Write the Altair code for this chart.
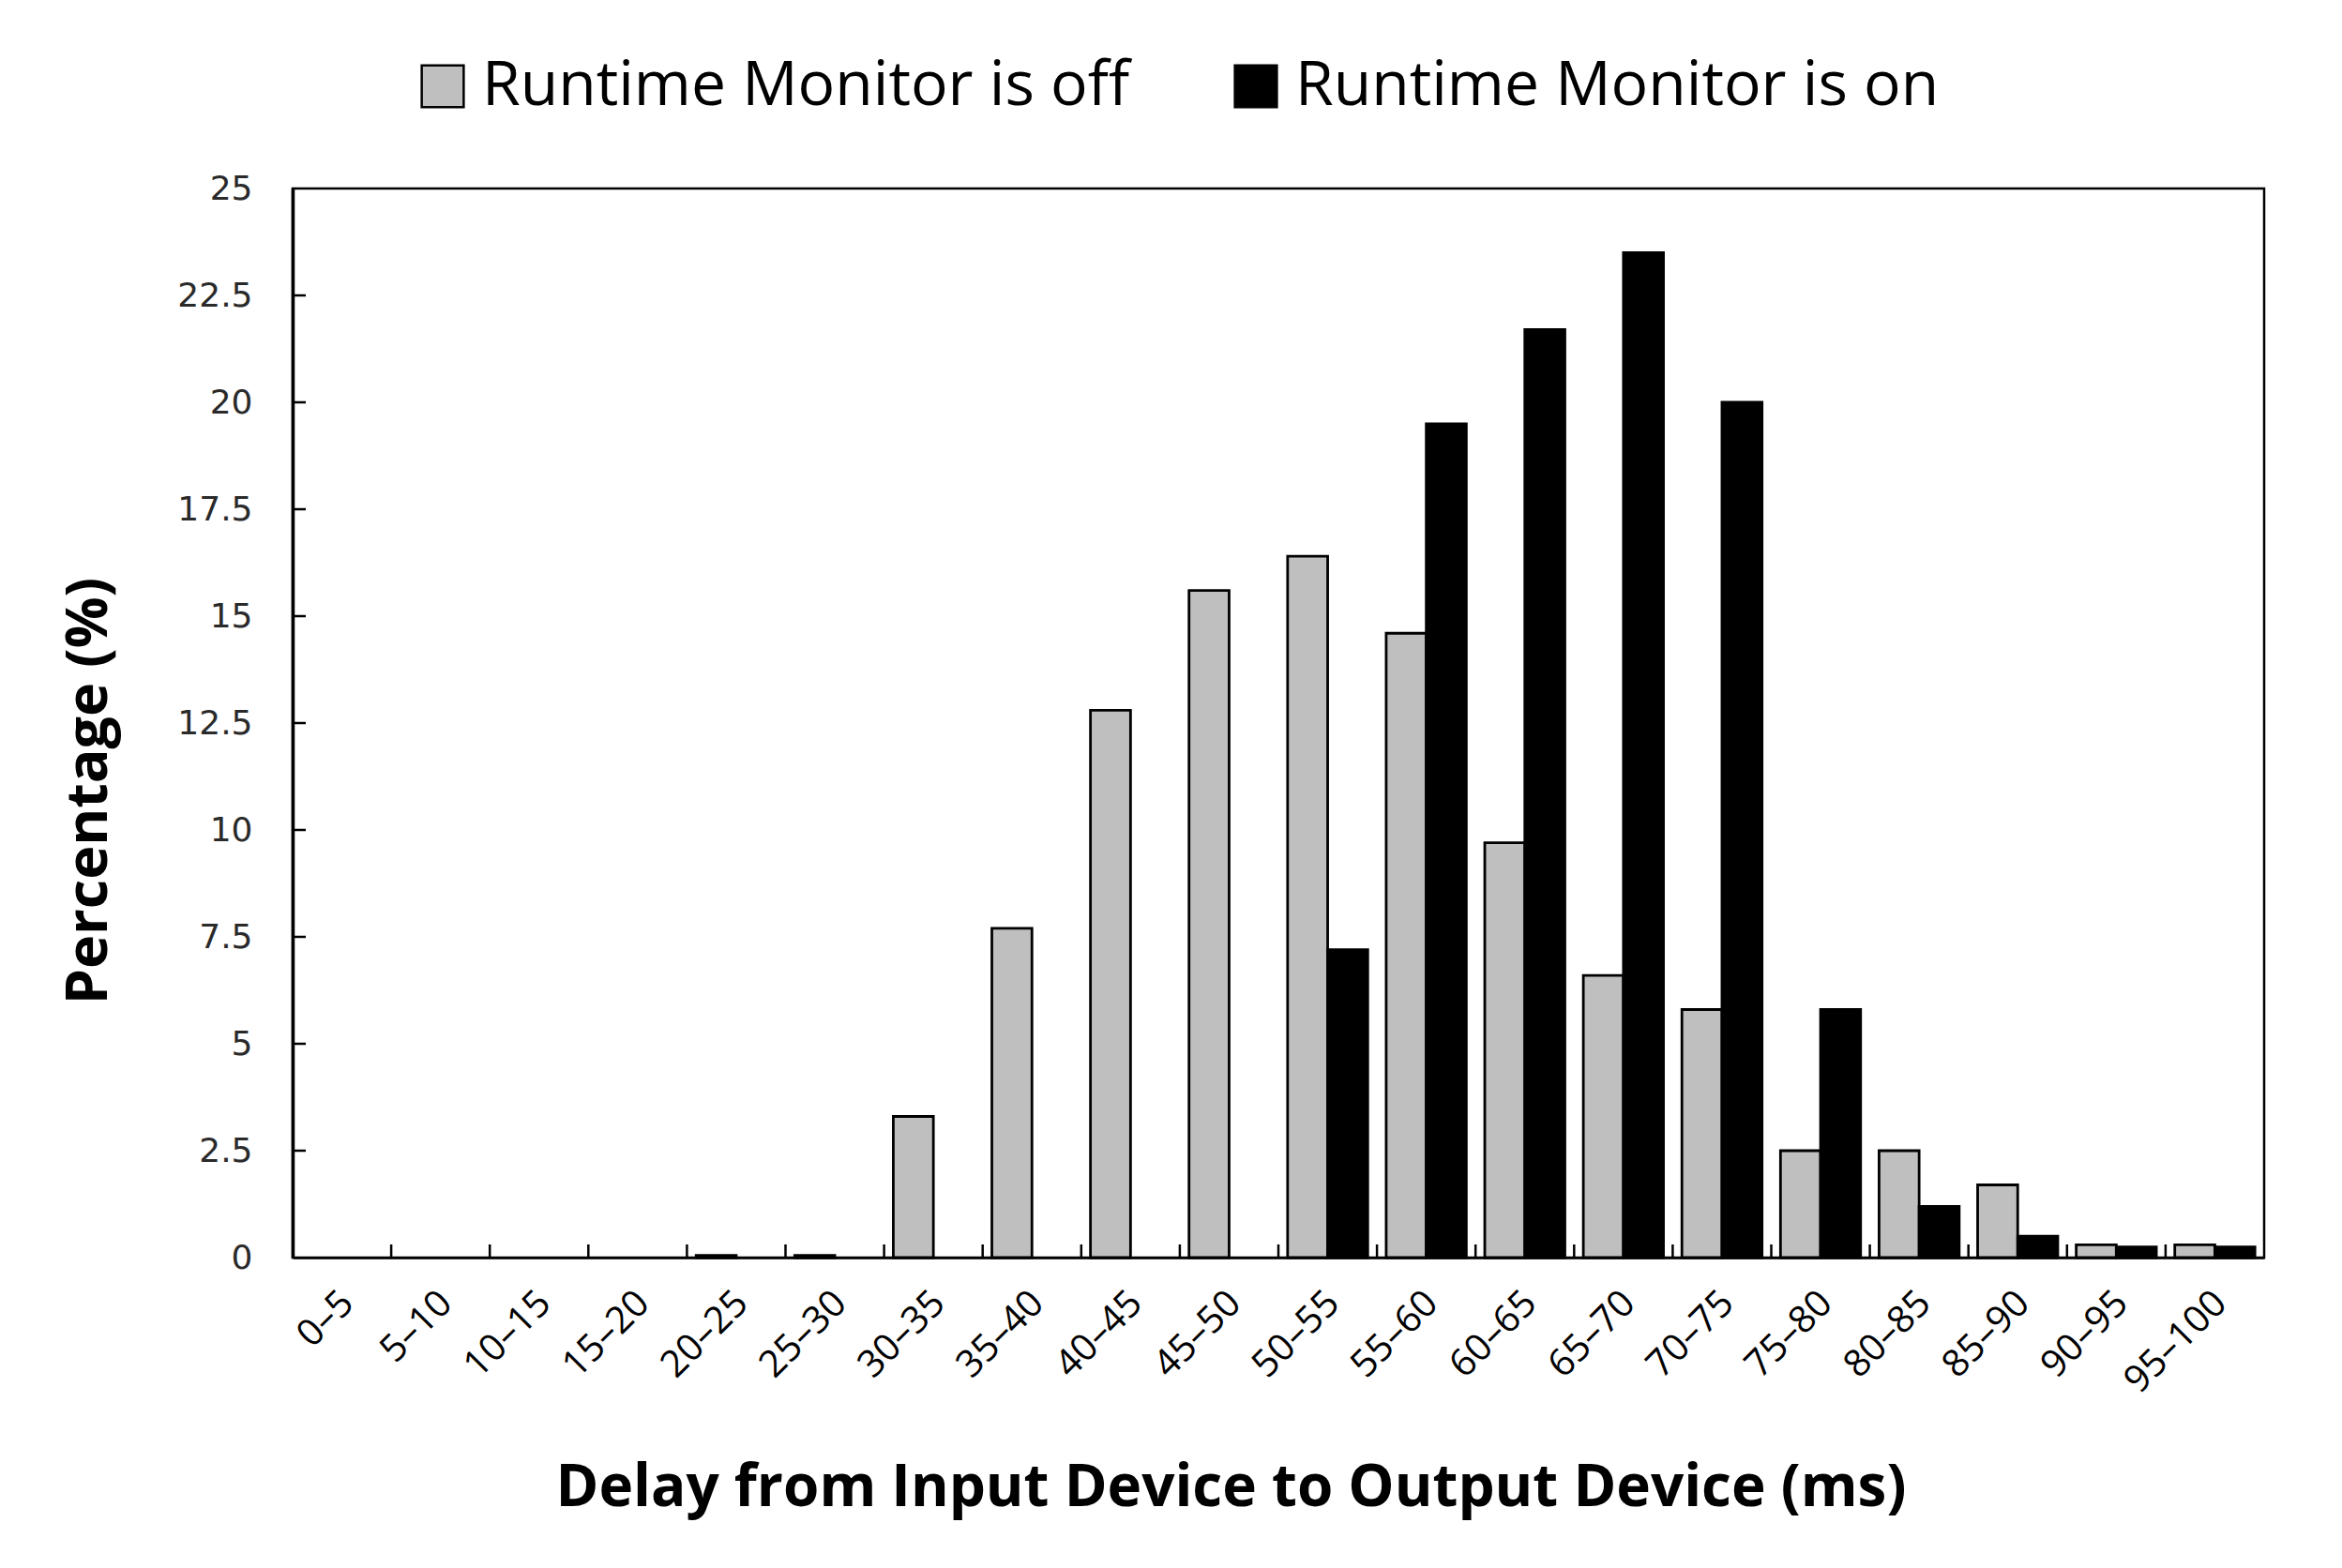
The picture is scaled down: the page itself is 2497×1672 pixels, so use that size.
import altair as alt
import pandas as pd

categories = ["0–5", "5–10", "10–15", "15–20", "20–25", "25–30", "30–35", "35–40",
              "40–45", "45–50", "50–55", "55–60", "60–65", "65–70", "70–75", "75–80",
              "80–85", "85–90", "90–95", "95–100"]
off_values = [0, 0, 0, 0, 0.05, 0.05, 3.3, 7.7, 12.8, 15.6, 16.4, 14.6, 9.7, 6.6, 5.8,
              2.5, 2.5, 1.7, 0.3, 0.3]
on_values = [0, 0, 0, 0, 0, 0, 0, 0, 0, 0, 7.2, 19.5, 21.7, 23.5, 20.0, 5.8, 1.2, 0.5,
             0.25, 0.25]
series_names = ["Runtime Monitor is off", "Runtime Monitor is on"]
series_colors = ["#BFBFBF", "#000000"]
y_ticks = [0, 2.5, 5, 7.5, 10, 12.5, 15, 17.5, 20, 22.5, 25]

W, H = 2102, 1140

rows = []
for c, v in zip(categories, off_values):
    rows.append({"category": c, "series": series_names[0], "value": v})
for c, v in zip(categories, on_values):
    rows.append({"category": c, "series": series_names[1], "value": v})
df = pd.DataFrame(rows)

x_scale = alt.Scale(domain=categories, paddingInner=0, paddingOuter=0)
y_scale = alt.Scale(domain=[0, 25], nice=False)

bars = alt.Chart(df).transform_filter("datum.value > 0").mark_bar(
    stroke="black", strokeWidth=2.8
).encode(
    x=alt.X("category:N", sort=categories, scale=x_scale,
            axis=alt.Axis(
                title="Delay from Input Device to Output Device (ms)",
                titleFont="Open Sans", titleFontSize=62, titleFontWeight="bold",
                titleColor="black", titleX=1000, titleY=264,
                titleBaseline="alphabetic", titleAnchor="start", titleAlign="center",
                labelFont="Open Sans", labelFontSize=40, labelColor="black",
                labelAngle=315, labelPadding=28, labelOffset=-8,
                ticks=False, domainColor="black", domainWidth=2.5,
                labelOverlap=False)),
    xOffset=alt.XOffset("series:N", sort=series_names,
                        scale=alt.Scale(domain=series_names, paddingOuter=0.23,
                                        paddingInner=0)),
    y=alt.Y("value:Q", scale=y_scale,
            axis=alt.Axis(
                values=y_ticks, format=".1~f", title="Percentage (%)",
                titleFont="Open Sans", titleFontSize=61, titleFontWeight="bold",
                titleColor="black", titleAngle=270, titleX=-199, titleY=642,
                titleBaseline="alphabetic", titleAlign="center",
                labelFont="DejaVu Sans", labelFontSize=36, labelColor="#2a2a2a",
                labelPadding=43, ticks=False, grid=False,
                domainColor="black", domainWidth=3.5)),
    color=alt.Color("series:N",
                    scale=alt.Scale(domain=series_names, range=series_colors),
                    legend=alt.Legend(
                        title=None, orient="none", legendX=127, legendY=-142,
                        direction="horizontal", symbolType="square",
                        symbolSize=2000, symbolStrokeColor="black",
                        symbolStrokeWidth=2.5, symbolOpacity=1,
                        labelFont="Open Sans", labelFontSize=66,
                        labelColor="black", labelOffset=9,
                        columnPadding=101, labelLimit=1000)),
)

xticks = alt.Chart(pd.DataFrame({"category": categories[1:]})).mark_rule(
    color="black", strokeWidth=2.5
).encode(
    x=alt.X("category:N", sort=categories, scale=x_scale, bandPosition=0),
    y=alt.value(H), y2=alt.value(H - 14),
)

yticks = alt.Chart(pd.DataFrame({"value": y_ticks[1:-1]})).mark_rule(
    color="black", strokeWidth=2.5
).encode(
    y=alt.Y("value:Q", scale=y_scale),
    x=alt.value(0), x2=alt.value(14),
)

chart = alt.layer(bars, xticks, yticks).properties(
    width=W, height=H,
    autosize=alt.AutoSizeParams(type="none"),
    padding={"left": 304, "top": 193, "right": 60, "bottom": 300},
    background="white",
).configure_view(stroke="black", strokeWidth=2.5)

chart.save("out.html", embed_options={"renderer": "svg", "actions": False})
